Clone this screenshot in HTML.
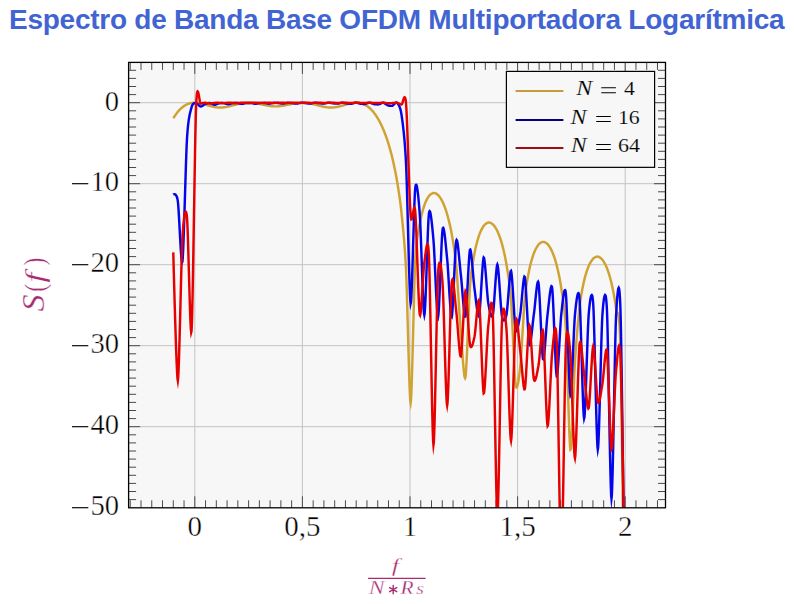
<!DOCTYPE html>
<html><head><meta charset="utf-8"><style>
html,body{margin:0;padding:0;background:#fff;}
body{width:794px;height:604px;position:relative;overflow:hidden;}
.t{position:absolute;left:9px;top:4px;font:bold 28px "Liberation Sans",sans-serif;color:#4264d2;white-space:nowrap;letter-spacing:-0.25px;line-height:normal;}
svg{position:absolute;left:0;top:0;}
</style></head><body>
<div class="t">Espectro de Banda Base OFDM Multiportadora Logarítmica</div>
<svg width="794" height="604" viewBox="0 0 794 604">
<defs><clipPath id="cp"><rect x="128.6" y="62.4" width="536.90" height="445.40"/></clipPath></defs>
<rect x="128.6" y="62.4" width="536.90" height="445.40" fill="#f7f7f7"/>
<line x1="194.80" y1="62.4" x2="194.80" y2="507.8" stroke="#c3c3c3" stroke-width="1"/>
<line x1="302.40" y1="62.4" x2="302.40" y2="507.8" stroke="#c3c3c3" stroke-width="1"/>
<line x1="410.00" y1="62.4" x2="410.00" y2="507.8" stroke="#c3c3c3" stroke-width="1"/>
<line x1="517.60" y1="62.4" x2="517.60" y2="507.8" stroke="#c3c3c3" stroke-width="1"/>
<line x1="625.20" y1="62.4" x2="625.20" y2="507.8" stroke="#c3c3c3" stroke-width="1"/>
<line x1="128.6" y1="102.70" x2="665.5" y2="102.70" stroke="#c3c3c3" stroke-width="1"/>
<line x1="128.6" y1="183.70" x2="665.5" y2="183.70" stroke="#c3c3c3" stroke-width="1"/>
<line x1="128.6" y1="264.70" x2="665.5" y2="264.70" stroke="#c3c3c3" stroke-width="1"/>
<line x1="128.6" y1="345.70" x2="665.5" y2="345.70" stroke="#c3c3c3" stroke-width="1"/>
<line x1="128.6" y1="426.70" x2="665.5" y2="426.70" stroke="#c3c3c3" stroke-width="1"/>
<path d="M130.24,507.8v-7.5M130.24,62.4v7.5M141.00,507.8v-7.5M141.00,62.4v7.5M151.76,507.8v-7.5M151.76,62.4v7.5M162.52,507.8v-7.5M162.52,62.4v7.5M173.28,507.8v-7.5M173.28,62.4v7.5M184.04,507.8v-7.5M184.04,62.4v7.5M194.80,507.8v-11.5M194.80,62.4v11.5M205.56,507.8v-7.5M205.56,62.4v7.5M216.32,507.8v-7.5M216.32,62.4v7.5M227.08,507.8v-7.5M227.08,62.4v7.5M237.84,507.8v-7.5M237.84,62.4v7.5M248.60,507.8v-7.5M248.60,62.4v7.5M259.36,507.8v-7.5M259.36,62.4v7.5M270.12,507.8v-7.5M270.12,62.4v7.5M280.88,507.8v-7.5M280.88,62.4v7.5M291.64,507.8v-7.5M291.64,62.4v7.5M302.40,507.8v-11.5M302.40,62.4v11.5M313.16,507.8v-7.5M313.16,62.4v7.5M323.92,507.8v-7.5M323.92,62.4v7.5M334.68,507.8v-7.5M334.68,62.4v7.5M345.44,507.8v-7.5M345.44,62.4v7.5M356.20,507.8v-7.5M356.20,62.4v7.5M366.96,507.8v-7.5M366.96,62.4v7.5M377.72,507.8v-7.5M377.72,62.4v7.5M388.48,507.8v-7.5M388.48,62.4v7.5M399.24,507.8v-7.5M399.24,62.4v7.5M410.00,507.8v-11.5M410.00,62.4v11.5M420.76,507.8v-7.5M420.76,62.4v7.5M431.52,507.8v-7.5M431.52,62.4v7.5M442.28,507.8v-7.5M442.28,62.4v7.5M453.04,507.8v-7.5M453.04,62.4v7.5M463.80,507.8v-7.5M463.80,62.4v7.5M474.56,507.8v-7.5M474.56,62.4v7.5M485.32,507.8v-7.5M485.32,62.4v7.5M496.08,507.8v-7.5M496.08,62.4v7.5M506.84,507.8v-7.5M506.84,62.4v7.5M517.60,507.8v-11.5M517.60,62.4v11.5M528.36,507.8v-7.5M528.36,62.4v7.5M539.12,507.8v-7.5M539.12,62.4v7.5M549.88,507.8v-7.5M549.88,62.4v7.5M560.64,507.8v-7.5M560.64,62.4v7.5M571.40,507.8v-7.5M571.40,62.4v7.5M582.16,507.8v-7.5M582.16,62.4v7.5M592.92,507.8v-7.5M592.92,62.4v7.5M603.68,507.8v-7.5M603.68,62.4v7.5M614.44,507.8v-7.5M614.44,62.4v7.5M625.20,507.8v-11.5M625.20,62.4v11.5M635.96,507.8v-7.5M635.96,62.4v7.5M646.72,507.8v-7.5M646.72,62.4v7.5M657.48,507.8v-7.5M657.48,62.4v7.5M128.6,499.60h7.5M665.5,499.60h-7.5M128.6,491.50h7.5M665.5,491.50h-7.5M128.6,483.40h7.5M665.5,483.40h-7.5M128.6,475.30h7.5M665.5,475.30h-7.5M128.6,467.20h7.5M665.5,467.20h-7.5M128.6,459.10h7.5M665.5,459.10h-7.5M128.6,451.00h7.5M665.5,451.00h-7.5M128.6,442.90h7.5M665.5,442.90h-7.5M128.6,434.80h7.5M665.5,434.80h-7.5M128.6,426.70h11.5M665.5,426.70h-11.5M128.6,418.60h7.5M665.5,418.60h-7.5M128.6,410.50h7.5M665.5,410.50h-7.5M128.6,402.40h7.5M665.5,402.40h-7.5M128.6,394.30h7.5M665.5,394.30h-7.5M128.6,386.20h7.5M665.5,386.20h-7.5M128.6,378.10h7.5M665.5,378.10h-7.5M128.6,370.00h7.5M665.5,370.00h-7.5M128.6,361.90h7.5M665.5,361.90h-7.5M128.6,353.80h7.5M665.5,353.80h-7.5M128.6,345.70h11.5M665.5,345.70h-11.5M128.6,337.60h7.5M665.5,337.60h-7.5M128.6,329.50h7.5M665.5,329.50h-7.5M128.6,321.40h7.5M665.5,321.40h-7.5M128.6,313.30h7.5M665.5,313.30h-7.5M128.6,305.20h7.5M665.5,305.20h-7.5M128.6,297.10h7.5M665.5,297.10h-7.5M128.6,289.00h7.5M665.5,289.00h-7.5M128.6,280.90h7.5M665.5,280.90h-7.5M128.6,272.80h7.5M665.5,272.80h-7.5M128.6,264.70h11.5M665.5,264.70h-11.5M128.6,256.60h7.5M665.5,256.60h-7.5M128.6,248.50h7.5M665.5,248.50h-7.5M128.6,240.40h7.5M665.5,240.40h-7.5M128.6,232.30h7.5M665.5,232.30h-7.5M128.6,224.20h7.5M665.5,224.20h-7.5M128.6,216.10h7.5M665.5,216.10h-7.5M128.6,208.00h7.5M665.5,208.00h-7.5M128.6,199.90h7.5M665.5,199.90h-7.5M128.6,191.80h7.5M665.5,191.80h-7.5M128.6,183.70h11.5M665.5,183.70h-11.5M128.6,175.60h7.5M665.5,175.60h-7.5M128.6,167.50h7.5M665.5,167.50h-7.5M128.6,159.40h7.5M665.5,159.40h-7.5M128.6,151.30h7.5M665.5,151.30h-7.5M128.6,143.20h7.5M665.5,143.20h-7.5M128.6,135.10h7.5M665.5,135.10h-7.5M128.6,127.00h7.5M665.5,127.00h-7.5M128.6,118.90h7.5M665.5,118.90h-7.5M128.6,110.80h7.5M665.5,110.80h-7.5M128.6,102.70h11.5M665.5,102.70h-11.5M128.6,94.60h7.5M665.5,94.60h-7.5M128.6,86.50h7.5M665.5,86.50h-7.5M128.6,78.40h7.5M665.5,78.40h-7.5M128.6,70.30h7.5M665.5,70.30h-7.5" stroke="#4a4a4a" stroke-width="1" fill="none"/>
<g clip-path="url(#cp)" fill="none" stroke-width="2.45" stroke-linejoin="miter" stroke-miterlimit="10" stroke-linecap="butt">
<path d="M173.28,118.21 173.34,118.12 173.53,117.84 173.81,117.42 174.18,116.88 174.61,116.24 175.08,115.55 175.58,114.82 176.09,114.09 176.59,113.39 177.06,112.74 177.49,112.18 177.84,111.73 178.18,111.33 178.54,110.93 178.92,110.52 179.31,110.10 179.72,109.68 180.13,109.28 180.54,108.88 180.94,108.49 181.34,108.13 181.72,107.79 182.07,107.48 182.41,107.21 182.74,106.95 183.10,106.68 183.48,106.41 183.88,106.15 184.28,105.88 184.69,105.63 185.10,105.38 185.51,105.14 185.90,104.92 186.28,104.72 186.64,104.53 186.97,104.37 187.31,104.22 187.67,104.08 188.05,103.93 188.44,103.79 188.85,103.66 189.26,103.53 189.67,103.41 190.07,103.30 190.47,103.20 190.84,103.11 191.20,103.03 191.54,102.97 191.87,102.91 192.23,102.87 192.61,102.83 193.01,102.79 193.41,102.77 193.82,102.74 194.23,102.73 194.64,102.72 195.03,102.72 195.41,102.72 195.77,102.73 196.10,102.74 196.44,102.76 196.80,102.79 197.18,102.83 197.57,102.88 197.97,102.93 198.38,102.99 198.79,103.06 199.20,103.12 199.59,103.19 199.97,103.26 200.33,103.33 200.67,103.39 201.00,103.47 201.36,103.55 201.74,103.64 202.13,103.74 202.54,103.85 202.95,103.96 203.36,104.07 203.76,104.18 204.16,104.29 204.54,104.40 204.90,104.50 205.23,104.59 205.57,104.68 205.92,104.79 206.30,104.90 206.70,105.02 207.10,105.14 207.51,105.27 207.92,105.39 208.33,105.51 208.72,105.63 209.10,105.74 209.46,105.84 209.80,105.93 210.13,106.02 210.49,106.11 210.87,106.21 211.26,106.31 211.67,106.42 212.08,106.52 212.49,106.62 212.89,106.71 213.29,106.80 213.67,106.88 214.03,106.96 214.36,107.02 214.69,107.08 215.05,107.13 215.43,107.19 215.83,107.25 216.23,107.30 216.64,107.35 217.05,107.40 217.46,107.44 217.85,107.48 218.23,107.51 218.59,107.53 218.93,107.55 219.26,107.56 219.62,107.56 220.00,107.56 220.39,107.55 220.80,107.54 221.21,107.53 221.62,107.51 222.02,107.49 222.42,107.47 222.80,107.44 223.16,107.41 223.49,107.38 223.82,107.34 224.18,107.29 224.56,107.23 224.96,107.17 225.36,107.11 225.77,107.03 226.18,106.96 226.59,106.88 226.98,106.81 227.36,106.73 227.72,106.66 228.05,106.59 228.39,106.52 228.75,106.43 229.13,106.34 229.52,106.24 229.93,106.14 230.34,106.04 230.75,105.93 231.15,105.82 231.55,105.72 231.93,105.62 232.29,105.53 232.62,105.44 232.95,105.35 233.31,105.26 233.69,105.16 234.09,105.05 234.49,104.94 234.90,104.83 235.31,104.72 235.72,104.61 236.11,104.51 236.49,104.41 236.85,104.32 237.18,104.24 237.52,104.17 237.88,104.08 238.26,104.00 238.65,103.91 239.06,103.82 239.47,103.73 239.88,103.64 240.28,103.56 240.68,103.48 241.06,103.41 241.41,103.34 241.75,103.29 242.08,103.23 242.44,103.18 242.82,103.13 243.22,103.08 243.62,103.03 244.03,102.98 244.44,102.93 244.85,102.89 245.24,102.85 245.62,102.82 245.98,102.79 246.31,102.77 246.65,102.75 247.01,102.74 247.39,102.73 247.78,102.72 248.19,102.71 248.60,102.71 249.01,102.71 249.41,102.72 249.81,102.73 250.18,102.74 250.54,102.75 250.88,102.76 251.21,102.78 251.57,102.81 251.95,102.84 252.35,102.88 252.75,102.92 253.16,102.96 253.57,103.01 253.98,103.06 254.37,103.11 254.75,103.15 255.11,103.20 255.44,103.25 255.78,103.30 256.14,103.36 256.52,103.42 256.91,103.49 257.31,103.57 257.72,103.64 258.13,103.72 258.54,103.80 258.93,103.88 259.31,103.95 259.67,104.02 260.01,104.09 260.34,104.15 260.70,104.23 261.08,104.31 261.47,104.39 261.88,104.48 262.29,104.57 262.70,104.66 263.10,104.75 263.50,104.83 263.88,104.91 264.24,104.99 264.57,105.05 264.91,105.12 265.26,105.19 265.64,105.26 266.04,105.34 266.44,105.42 266.85,105.50 267.26,105.57 267.67,105.64 268.06,105.71 268.44,105.78 268.80,105.83 269.14,105.88 269.47,105.93 269.83,105.98 270.21,106.02 270.60,106.07 271.01,106.12 271.42,106.16 271.83,106.20 272.23,106.24 272.63,106.27 273.01,106.30 273.37,106.32 273.70,106.34 274.03,106.35 274.39,106.36 274.77,106.37 275.17,106.37 275.57,106.37 275.98,106.36 276.39,106.36 276.80,106.35 277.19,106.34 277.57,106.32 277.93,106.30 278.27,106.28 278.60,106.26 278.96,106.23 279.34,106.19 279.73,106.15 280.14,106.10 280.55,106.05 280.96,106.00 281.36,105.95 281.76,105.89 282.14,105.84 282.50,105.78 282.83,105.73 283.16,105.68 283.52,105.62 283.90,105.55 284.30,105.47 284.70,105.39 285.11,105.31 285.52,105.23 285.93,105.15 286.32,105.07 286.70,104.99 287.06,104.92 287.39,104.85 287.73,104.78 288.09,104.71 288.47,104.63 288.86,104.54 289.27,104.45 289.68,104.37 290.09,104.28 290.49,104.19 290.89,104.11 291.27,104.03 291.63,103.96 291.96,103.89 292.29,103.83 292.65,103.76 293.03,103.69 293.43,103.62 293.83,103.54 294.24,103.47 294.65,103.40 295.06,103.33 295.45,103.27 295.83,103.21 296.19,103.16 296.52,103.11 296.86,103.07 297.22,103.03 297.60,102.99 297.99,102.95 298.40,102.91 298.81,102.87 299.22,102.84 299.62,102.80 300.02,102.78 300.40,102.75 300.75,102.73 301.09,102.72 301.42,102.71 301.78,102.71 302.16,102.71 302.56,102.71 302.96,102.72 303.37,102.72 303.78,102.74 304.19,102.75 304.58,102.77 304.96,102.79 305.32,102.81 305.65,102.83 305.99,102.86 306.35,102.90 306.73,102.94 307.12,102.99 307.53,103.04 307.94,103.10 308.35,103.16 308.75,103.22 309.15,103.28 309.52,103.34 309.88,103.40 310.22,103.46 310.55,103.52 310.91,103.59 311.29,103.67 311.69,103.76 312.09,103.85 312.50,103.94 312.91,104.04 313.32,104.13 313.71,104.23 314.09,104.32 314.45,104.40 314.78,104.49 315.12,104.57 315.48,104.66 315.86,104.76 316.25,104.87 316.65,104.98 317.06,105.09 317.47,105.20 317.88,105.31 318.27,105.42 318.65,105.52 319.01,105.61 319.35,105.70 319.68,105.78 320.04,105.87 320.42,105.97 320.81,106.07 321.22,106.17 321.63,106.28 322.04,106.38 322.44,106.47 322.84,106.57 323.22,106.65 323.58,106.73 323.91,106.80 324.25,106.86 324.60,106.93 324.98,106.99 325.38,107.06 325.78,107.13 326.19,107.19 326.60,107.25 327.01,107.31 327.40,107.36 327.78,107.40 328.14,107.44 328.48,107.47 328.81,107.49 329.17,107.51 329.55,107.53 329.94,107.54 330.35,107.55 330.76,107.55 331.17,107.55 331.57,107.55 331.97,107.54 332.35,107.53 332.71,107.51 333.04,107.49 333.37,107.47 333.73,107.43 334.11,107.39 334.51,107.34 334.91,107.28 335.32,107.22 335.73,107.16 336.14,107.10 336.53,107.03 336.91,106.96 337.27,106.89 337.61,106.83 337.94,106.76 338.30,106.68 338.68,106.59 339.07,106.49 339.48,106.38 339.89,106.28 340.30,106.17 340.70,106.06 341.10,105.95 341.48,105.85 341.84,105.75 342.17,105.65 342.50,105.56 342.86,105.46 343.24,105.34 343.64,105.23 344.04,105.10 344.45,104.98 344.86,104.86 345.27,104.73 345.66,104.62 346.04,104.51 346.40,104.40 346.73,104.31 347.07,104.22 347.43,104.12 347.81,104.02 348.20,103.92 348.61,103.81 349.02,103.71 349.43,103.61 349.83,103.51 350.23,103.42 350.61,103.33 350.97,103.26 351.30,103.20 351.63,103.14 351.99,103.08 352.37,103.03 352.77,102.97 353.17,102.92 353.58,102.87 353.99,102.82 354.40,102.78 354.79,102.75 355.17,102.73 355.53,102.71 355.86,102.70 356.20,102.70 356.56,102.71 356.94,102.73 357.33,102.75 357.74,102.78 358.15,102.82 358.56,102.86 358.96,102.90 359.36,102.96 359.74,103.02 360.09,103.09 360.43,103.16 360.76,103.24 361.12,103.34 361.50,103.45 361.90,103.58 362.30,103.71 362.71,103.86 363.12,104.01 363.53,104.17 363.92,104.34 364.30,104.50 364.66,104.67 364.99,104.84 365.33,105.03 365.69,105.24 366.07,105.47 366.46,105.72 366.87,105.98 367.28,106.26 367.69,106.55 368.09,106.84 368.49,107.14 368.86,107.43 369.22,107.73 369.56,108.01 369.89,108.32 370.25,108.66 370.63,109.03 371.03,109.42 371.43,109.84 371.84,110.27 372.25,110.72 372.66,111.17 373.05,111.62 373.43,112.06 373.79,112.50 374.12,112.93 374.46,113.37 374.82,113.86 375.20,114.39 375.59,114.96 375.99,115.55 376.40,116.16 376.81,116.79 377.22,117.43 377.61,118.06 377.99,118.68 378.35,119.29 378.69,119.87 379.02,120.48 379.38,121.15 379.76,121.88 380.15,122.65 380.56,123.45 380.97,124.28 381.38,125.13 381.78,125.98 382.18,126.83 382.56,127.66 382.92,128.48 383.25,129.26 383.59,130.07 383.94,130.96 384.32,131.92 384.72,132.94 385.12,134.00 385.53,135.10 385.94,136.22 386.35,137.34 386.74,138.46 387.12,139.57 387.48,140.64 387.82,141.68 388.15,142.75 388.51,143.92 388.89,145.19 389.28,146.53 389.69,147.93 390.10,149.38 390.51,150.85 390.91,152.34 391.31,153.83 391.69,155.30 392.05,156.73 392.38,158.12 392.71,159.55 393.07,161.12 393.45,162.82 393.85,164.61 394.25,166.49 394.66,168.44 395.07,170.43 395.48,172.45 395.87,174.48 396.25,176.51 396.61,178.50 396.95,180.45 397.28,182.47 397.64,184.66 398.02,187.01 398.41,189.50 398.82,192.13 399.23,194.88 399.64,197.72 400.04,200.66 400.44,203.67 400.82,206.74 401.18,209.86 401.51,213.01 401.84,216.28 402.20,219.81 402.58,223.60 402.98,227.66 403.38,231.99 403.79,236.60 404.20,241.50 404.61,246.70 405.00,252.21 405.38,258.03 405.74,264.17 406.07,270.65 406.41,278.86 406.77,289.76 407.15,302.70 407.54,317.03 407.95,332.08 408.36,347.21 408.77,361.75 409.17,375.06 409.57,386.48 409.95,395.35 410.31,401.02 410.64,402.83 410.97,400.23 411.33,393.60 411.71,383.63 412.11,371.04 412.51,356.54 412.92,340.84 413.33,324.63 413.74,308.65 414.13,293.59 414.51,280.16 414.87,269.08 415.20,261.05 415.54,255.20 415.90,250.13 416.28,245.76 416.67,241.99 417.08,238.75 417.49,235.95 417.90,233.52 418.30,231.36 418.70,229.39 419.08,227.53 419.43,225.70 419.77,223.81 420.10,221.88 420.46,220.00 420.84,218.18 421.24,216.42 421.64,214.73 422.05,213.11 422.46,211.58 422.87,210.13 423.26,208.78 423.64,207.53 424.00,206.39 424.33,205.36 424.67,204.40 425.03,203.45 425.41,202.52 425.80,201.62 426.21,200.75 426.62,199.92 427.03,199.14 427.43,198.41 427.83,197.73 428.20,197.12 428.56,196.57 428.90,196.10 429.23,195.68 429.59,195.28 429.97,194.91 430.37,194.56 430.77,194.25 431.18,193.96 431.59,193.71 432.00,193.49 432.39,193.31 432.77,193.17 433.13,193.07 433.46,193.01 433.80,192.99 434.16,193.01 434.54,193.08 434.93,193.18 435.33,193.31 435.74,193.47 436.15,193.67 436.56,193.89 436.95,194.13 437.33,194.40 437.69,194.68 438.03,194.98 438.36,195.33 438.72,195.74 439.10,196.20 439.49,196.72 439.90,197.28 440.31,197.88 440.72,198.50 441.12,199.15 441.52,199.82 441.90,200.50 442.26,201.18 442.59,201.86 442.93,202.59 443.28,203.40 443.66,204.30 444.06,205.27 444.46,206.30 444.87,207.38 445.28,208.50 445.69,209.64 446.08,210.80 446.46,211.96 446.82,213.12 447.16,214.26 447.49,215.46 447.85,216.79 448.23,218.23 448.62,219.78 449.03,221.41 449.44,223.11 449.85,224.88 450.25,226.68 450.65,228.52 451.03,230.37 451.39,232.22 451.72,234.06 452.05,235.97 452.41,238.04 452.79,240.26 453.19,242.63 453.59,245.14 454.00,247.80 454.41,250.59 454.82,253.51 455.21,256.56 455.59,259.74 455.95,263.03 456.29,266.43 456.62,270.34 456.98,275.06 457.36,280.45 457.75,286.33 458.16,292.56 458.57,298.98 458.98,305.43 459.38,311.76 459.78,317.82 460.16,323.45 460.52,328.50 460.85,332.80 461.18,337.07 461.54,341.94 461.92,347.22 462.32,352.69 462.72,358.13 463.13,363.33 463.54,368.06 463.95,372.13 464.34,375.30 464.72,377.38 465.08,378.13 465.41,377.36 465.75,374.55 466.11,369.60 466.49,362.91 466.88,354.84 467.29,345.78 467.70,336.12 468.11,326.22 468.51,316.48 468.91,307.27 469.29,298.98 469.65,291.99 469.98,286.68 470.31,282.50 470.67,278.65 471.05,275.11 471.45,271.84 471.85,268.84 472.26,266.07 472.67,263.52 473.08,261.15 473.47,258.95 473.85,256.90 474.21,254.96 474.54,253.12 474.88,251.33 475.24,249.57 475.62,247.84 476.01,246.15 476.42,244.52 476.83,242.94 477.24,241.44 477.64,240.02 478.04,238.68 478.42,237.45 478.77,236.32 479.11,235.30 479.44,234.35 479.80,233.41 480.18,232.49 480.58,231.58 480.98,230.70 481.39,229.86 481.80,229.06 482.21,228.31 482.60,227.62 482.98,226.99 483.34,226.42 483.67,225.94 484.01,225.50 484.37,225.08 484.75,224.69 485.14,224.32 485.55,223.98 485.96,223.67 486.37,223.39 486.77,223.14 487.17,222.93 487.54,222.77 487.90,222.64 488.24,222.56 488.57,222.52 488.93,222.52 489.31,222.56 489.71,222.64 490.11,222.75 490.52,222.89 490.93,223.06 491.34,223.26 491.73,223.48 492.11,223.73 492.47,224.00 492.80,224.29 493.14,224.62 493.50,225.02 493.88,225.47 494.27,225.97 494.67,226.52 495.08,227.11 495.49,227.73 495.90,228.38 496.29,229.04 496.67,229.72 497.03,230.41 497.37,231.09 497.70,231.82 498.06,232.65 498.44,233.56 498.83,234.55 499.24,235.60 499.65,236.70 500.06,237.84 500.46,239.01 500.86,240.20 501.24,241.40 501.60,242.60 501.93,243.78 502.27,245.03 502.62,246.41 503.00,247.92 503.40,249.53 503.80,251.23 504.21,253.02 504.62,254.87 505.03,256.77 505.42,258.72 505.80,260.69 506.16,262.68 506.50,264.66 506.83,266.70 507.19,268.88 507.57,271.21 507.96,273.69 508.37,276.34 508.78,279.16 509.19,282.17 509.59,285.38 509.99,288.78 510.37,292.41 510.73,296.25 511.06,300.33 511.39,305.34 511.75,311.76 512.13,319.28 512.53,327.58 512.93,336.36 513.34,345.29 513.75,354.07 514.16,362.38 514.55,369.91 514.93,376.34 515.29,381.37 515.63,384.68 515.96,386.54 516.32,387.48 516.70,387.60 517.09,387.00 517.50,385.77 517.91,384.00 518.32,381.78 518.72,379.21 519.12,376.39 519.50,373.40 519.86,370.34 520.19,367.30 520.52,363.71 520.88,359.05 521.26,353.54 521.66,347.37 522.06,340.75 522.47,333.89 522.88,326.99 523.29,320.27 523.68,313.92 524.06,308.15 524.42,303.17 524.75,299.18 525.09,295.84 525.45,292.68 525.83,289.67 526.22,286.83 526.63,284.15 527.04,281.63 527.45,279.25 527.85,277.02 528.25,274.94 528.63,272.99 528.99,271.19 529.32,269.51 529.65,267.91 530.01,266.31 530.39,264.74 530.79,263.20 531.19,261.71 531.60,260.26 532.01,258.88 532.42,257.56 532.81,256.33 533.19,255.19 533.55,254.15 533.88,253.23 534.22,252.36 534.58,251.50 534.96,250.65 535.35,249.82 535.76,249.02 536.17,248.25 536.58,247.52 536.98,246.83 537.38,246.20 537.76,245.63 538.11,245.12 538.45,244.69 538.78,244.30 539.14,243.93 539.52,243.59 539.92,243.27 540.32,242.98 540.73,242.72 541.14,242.49 541.55,242.29 541.94,242.13 542.32,242.01 542.68,241.93 543.01,241.89 543.35,241.89 543.71,241.94 544.09,242.02 544.48,242.14 544.89,242.30 545.30,242.48 545.71,242.70 546.11,242.95 546.51,243.22 546.88,243.51 547.24,243.82 547.58,244.16 547.91,244.53 548.27,244.98 548.65,245.48 549.05,246.04 549.45,246.65 549.86,247.29 550.27,247.97 550.68,248.68 551.07,249.40 551.45,250.14 551.81,250.88 552.14,251.63 552.48,252.42 552.84,253.32 553.22,254.30 553.61,255.37 554.01,256.50 554.42,257.68 554.83,258.91 555.24,260.17 555.63,261.46 556.01,262.76 556.37,264.05 556.71,265.34 557.04,266.69 557.40,268.19 557.78,269.81 558.17,271.55 558.58,273.39 558.99,275.32 559.40,277.33 559.80,279.41 560.20,281.54 560.58,283.71 560.94,285.90 561.27,288.12 561.61,290.34 561.96,292.62 562.34,295.01 562.74,297.54 563.14,300.26 563.55,303.22 563.96,306.47 564.37,310.06 564.76,314.02 565.14,318.40 565.50,323.26 565.84,328.63 566.17,335.67 566.53,345.11 566.91,356.40 567.30,368.98 567.71,382.30 568.12,395.80 568.53,408.93 568.93,421.13 569.33,431.84 569.71,440.51 570.07,446.58 570.40,449.50 570.73,449.13 571.09,445.99 571.47,440.54 571.87,433.22 572.27,424.49 572.68,414.81 573.09,404.61 573.50,394.34 573.89,384.47 574.27,375.43 574.63,367.69 574.97,361.68 575.30,356.64 575.66,351.50 576.04,346.33 576.43,341.17 576.84,336.09 577.25,331.14 577.66,326.36 578.06,321.82 578.46,317.56 578.84,313.65 579.20,310.12 579.53,307.05 579.86,304.26 580.22,301.57 580.60,298.98 581.00,296.48 581.40,294.10 581.81,291.82 582.22,289.66 582.63,287.63 583.02,285.71 583.40,283.93 583.76,282.29 584.09,280.79 584.43,279.35 584.79,277.92 585.17,276.51 585.56,275.12 585.97,273.77 586.38,272.46 586.79,271.21 587.19,270.02 587.59,268.91 587.97,267.88 588.33,266.94 588.66,266.11 588.99,265.34 589.35,264.57 589.73,263.81 590.13,263.08 590.53,262.37 590.94,261.69 591.35,261.04 591.76,260.45 592.15,259.89 592.53,259.40 592.89,258.96 593.22,258.60 593.56,258.27 593.92,257.98 594.30,257.70 594.69,257.46 595.10,257.24 595.51,257.05 595.92,256.89 596.32,256.76 596.72,256.67 597.10,256.61 597.45,256.59 597.79,256.61 598.12,256.67 598.48,256.78 598.86,256.93 599.26,257.11 599.66,257.34 600.07,257.59 600.48,257.88 600.89,258.20 601.28,258.54 601.66,258.90 602.02,259.27 602.35,259.67 602.69,260.11 603.05,260.62 603.43,261.20 603.82,261.83 604.23,262.52 604.64,263.24 605.05,264.00 605.45,264.79 605.85,265.60 606.22,266.42 606.58,267.25 606.92,268.07 607.25,268.95 607.61,269.94 607.99,271.02 608.39,272.18 608.79,273.42 609.20,274.72 609.61,276.07 610.02,277.45 610.41,278.86 610.79,280.28 611.15,281.71 611.48,283.13 611.82,284.61 612.18,286.25 612.56,288.02 612.95,289.92 613.35,291.93 613.76,294.05 614.17,296.26 614.58,298.55 614.97,300.92 615.35,303.34 615.71,305.82 616.05,308.33 616.38,310.32 616.74,311.48 617.12,312.16 617.51,312.71 617.92,313.50 618.33,314.88 618.74,317.19 619.14,320.81 619.54,326.09 619.92,333.37 620.28,343.03 620.61,355.41 620.97,373.92 621.39,400.50 621.86,433.31 622.36,470.51 622.87,510.23 623.37,550.65 623.84,589.92 624.27,626.18 624.64,657.60 624.92,682.32 625.10,698.51 625.17,704.32" stroke="#cfa232"/>
<path d="M173.28,194.62 173.34,194.58 173.53,194.46 173.81,194.34 174.18,194.25 174.61,194.26 175.08,194.41 175.58,194.76 176.09,195.35 176.59,196.25 177.06,197.49 177.49,199.14 177.84,201.24 178.18,204.57 178.54,209.58 178.92,215.87 179.31,223.02 179.72,230.61 180.13,238.24 180.54,245.50 180.94,251.96 181.34,257.23 181.72,260.87 182.07,262.49 182.41,261.67 182.74,257.84 183.10,251.06 183.48,241.86 183.88,230.79 184.28,218.38 184.69,205.16 185.10,191.67 185.51,178.46 185.90,166.04 186.28,154.97 186.64,145.77 186.97,138.98 187.31,133.92 187.67,129.49 188.05,125.63 188.44,122.29 188.85,119.42 189.26,116.95 189.67,114.82 190.07,112.98 190.47,111.37 190.84,109.94 191.20,108.62 191.54,107.35 191.87,106.22 192.23,105.31 192.61,104.60 193.01,104.07 193.41,103.69 193.82,103.43 194.23,103.28 194.64,103.20 195.03,103.18 195.41,103.19 195.77,103.20 196.10,103.18 196.44,103.22 196.80,103.38 197.18,103.64 197.57,103.97 197.97,104.36 198.38,104.77 198.79,105.18 199.20,105.58 199.59,105.94 199.97,106.23 200.33,106.43 200.67,106.52 201.00,106.50 201.36,106.40 201.74,106.23 202.13,106.01 202.54,105.75 202.95,105.46 203.36,105.16 203.76,104.86 204.16,104.57 204.54,104.31 204.90,104.10 205.23,103.95 205.57,103.82 205.92,103.70 206.30,103.57 206.70,103.46 207.10,103.35 207.51,103.25 207.92,103.16 208.33,103.09 208.72,103.03 209.10,103.00 209.46,102.99 209.80,103.00 210.13,103.06 210.49,103.17 210.87,103.32 211.26,103.50 211.67,103.69 212.08,103.90 212.49,104.11 212.89,104.31 213.29,104.48 213.67,104.62 214.03,104.72 214.36,104.76 214.69,104.75 215.05,104.69 215.43,104.60 215.83,104.47 216.23,104.33 216.64,104.17 217.05,104.01 217.46,103.84 217.85,103.69 218.23,103.55 218.59,103.44 218.93,103.36 219.26,103.30 219.62,103.23 220.00,103.18 220.39,103.12 220.80,103.07 221.21,103.02 221.62,102.99 222.02,102.96 222.42,102.94 222.80,102.94 223.16,102.94 223.49,102.97 223.82,103.01 224.18,103.09 224.56,103.20 224.96,103.33 225.36,103.47 225.77,103.61 226.18,103.75 226.59,103.88 226.98,104.00 227.36,104.09 227.72,104.16 228.05,104.18 228.39,104.17 228.75,104.12 229.13,104.05 229.52,103.95 229.93,103.84 230.34,103.72 230.75,103.60 231.15,103.48 231.55,103.36 231.93,103.26 232.29,103.18 232.62,103.12 232.95,103.08 233.31,103.04 233.69,103.01 234.09,102.98 234.49,102.96 234.90,102.94 235.31,102.93 235.72,102.92 236.11,102.92 236.49,102.93 236.85,102.94 237.18,102.96 237.52,103.01 237.88,103.07 238.26,103.16 238.65,103.26 239.06,103.36 239.47,103.47 239.88,103.58 240.28,103.68 240.68,103.77 241.06,103.84 241.41,103.89 241.75,103.90 242.08,103.89 242.44,103.85 242.82,103.78 243.22,103.70 243.62,103.60 244.03,103.50 244.44,103.39 244.85,103.29 245.24,103.19 245.62,103.11 245.98,103.04 246.31,102.99 246.65,102.96 247.01,102.94 247.39,102.92 247.78,102.91 248.19,102.90 248.60,102.90 249.01,102.90 249.41,102.91 249.81,102.92 250.18,102.93 250.54,102.95 250.88,102.98 251.21,103.02 251.57,103.07 251.95,103.14 252.35,103.23 252.75,103.32 253.16,103.41 253.57,103.49 253.98,103.58 254.37,103.65 254.75,103.70 255.11,103.74 255.44,103.75 255.78,103.73 256.14,103.69 256.52,103.63 256.91,103.55 257.31,103.46 257.72,103.37 258.13,103.27 258.54,103.17 258.93,103.08 259.31,103.01 259.67,102.95 260.01,102.91 260.34,102.89 260.70,102.87 261.08,102.87 261.47,102.86 261.88,102.87 262.29,102.88 262.70,102.89 263.10,102.91 263.50,102.93 263.88,102.95 264.24,102.98 264.57,103.00 264.91,103.04 265.26,103.09 265.64,103.15 266.04,103.22 266.44,103.30 266.85,103.37 267.26,103.45 267.67,103.52 268.06,103.57 268.44,103.62 268.80,103.65 269.14,103.65 269.47,103.63 269.83,103.59 270.21,103.53 270.60,103.46 271.01,103.37 271.42,103.28 271.83,103.19 272.23,103.10 272.63,103.01 273.01,102.94 273.37,102.89 273.70,102.85 274.03,102.84 274.39,102.83 274.77,102.83 275.17,102.84 275.57,102.85 275.98,102.87 276.39,102.90 276.80,102.92 277.19,102.95 277.57,102.98 277.93,103.01 278.27,103.03 278.60,103.07 278.96,103.11 279.34,103.17 279.73,103.23 280.14,103.30 280.55,103.36 280.96,103.43 281.36,103.49 281.76,103.54 282.14,103.57 282.50,103.59 282.83,103.60 283.16,103.58 283.52,103.53 283.90,103.47 284.30,103.40 284.70,103.31 285.11,103.22 285.52,103.13 285.93,103.04 286.32,102.96 286.70,102.89 287.06,102.84 287.39,102.81 287.73,102.80 288.09,102.80 288.47,102.81 288.86,102.83 289.27,102.85 289.68,102.88 290.09,102.91 290.49,102.94 290.89,102.98 291.27,103.01 291.63,103.05 291.96,103.07 292.29,103.11 292.65,103.15 293.03,103.20 293.43,103.26 293.83,103.32 294.24,103.38 294.65,103.43 295.06,103.48 295.45,103.52 295.83,103.55 296.19,103.57 296.52,103.57 296.86,103.54 297.22,103.50 297.60,103.43 297.99,103.36 298.40,103.27 298.81,103.18 299.22,103.09 299.62,103.00 300.02,102.92 300.40,102.86 300.75,102.81 301.09,102.78 301.42,102.77 301.78,102.78 302.16,102.79 302.56,102.82 302.96,102.85 303.37,102.89 303.78,102.93 304.19,102.98 304.58,103.02 304.96,103.06 305.32,103.10 305.65,103.13 305.99,103.16 306.35,103.20 306.73,103.25 307.12,103.30 307.53,103.35 307.94,103.40 308.35,103.45 308.75,103.49 309.15,103.53 309.52,103.55 309.88,103.56 310.22,103.56 310.55,103.53 310.91,103.48 311.29,103.42 311.69,103.34 312.09,103.25 312.50,103.16 312.91,103.06 313.32,102.97 313.71,102.90 314.09,102.83 314.45,102.78 314.78,102.76 315.12,102.75 315.48,102.76 315.86,102.79 316.25,102.82 316.65,102.87 317.06,102.92 317.47,102.97 317.88,103.02 318.27,103.08 318.65,103.12 319.01,103.17 319.35,103.20 319.68,103.23 320.04,103.27 320.42,103.32 320.81,103.36 321.22,103.41 321.63,103.46 322.04,103.50 322.44,103.53 322.84,103.56 323.22,103.58 323.58,103.58 323.91,103.58 324.25,103.55 324.60,103.49 324.98,103.42 325.38,103.34 325.78,103.24 326.19,103.15 326.60,103.05 327.01,102.96 327.40,102.87 327.78,102.81 328.14,102.76 328.48,102.74 328.81,102.74 329.17,102.76 329.55,102.79 329.94,102.84 330.35,102.89 330.76,102.96 331.17,103.02 331.57,103.09 331.97,103.15 332.35,103.21 332.71,103.26 333.04,103.30 333.37,103.33 333.73,103.37 334.11,103.41 334.51,103.46 334.91,103.50 335.32,103.54 335.73,103.57 336.14,103.60 336.53,103.62 336.91,103.64 337.27,103.64 337.61,103.62 337.94,103.59 338.30,103.53 338.68,103.45 339.07,103.36 339.48,103.26 339.89,103.15 340.30,103.05 340.70,102.95 341.10,102.86 341.48,102.79 341.84,102.74 342.17,102.72 342.50,102.73 342.86,102.76 343.24,102.80 343.64,102.87 344.04,102.94 344.45,103.02 344.86,103.11 345.27,103.19 345.66,103.27 346.04,103.34 346.40,103.40 346.73,103.45 347.07,103.48 347.43,103.52 347.81,103.56 348.20,103.60 348.61,103.64 349.02,103.67 349.43,103.70 349.83,103.72 350.23,103.74 350.61,103.74 350.97,103.74 351.30,103.72 351.63,103.68 351.99,103.61 352.37,103.52 352.77,103.41 353.17,103.30 353.58,103.18 353.99,103.06 354.40,102.95 354.79,102.85 355.17,102.78 355.53,102.73 355.86,102.71 356.20,102.72 356.56,102.77 356.94,102.83 357.33,102.92 357.74,103.02 358.15,103.13 358.56,103.24 358.96,103.35 359.36,103.46 359.74,103.55 360.09,103.63 360.43,103.68 360.76,103.72 361.12,103.77 361.50,103.81 361.90,103.84 362.30,103.88 362.71,103.91 363.12,103.93 363.53,103.95 363.92,103.95 364.30,103.95 364.66,103.93 364.99,103.91 365.33,103.85 365.69,103.77 366.07,103.65 366.46,103.52 366.87,103.38 367.28,103.24 367.69,103.10 368.09,102.97 368.49,102.86 368.86,102.77 369.22,102.72 369.56,102.70 369.89,102.73 370.25,102.80 370.63,102.91 371.03,103.04 371.43,103.18 371.84,103.34 372.25,103.51 372.66,103.67 373.05,103.82 373.43,103.95 373.79,104.06 374.12,104.13 374.46,104.19 374.82,104.24 375.20,104.28 375.59,104.33 375.99,104.36 376.40,104.39 376.81,104.40 377.22,104.41 377.61,104.41 377.99,104.39 378.35,104.37 378.69,104.32 379.02,104.25 379.38,104.12 379.76,103.97 380.15,103.78 380.56,103.59 380.97,103.39 381.38,103.19 381.78,103.02 382.18,102.87 382.56,102.76 382.92,102.70 383.25,102.70 383.59,102.78 383.94,102.92 384.32,103.11 384.72,103.35 385.12,103.62 385.53,103.91 385.94,104.20 386.35,104.49 386.74,104.76 387.12,104.99 387.48,105.19 387.82,105.33 388.15,105.43 388.51,105.53 388.89,105.62 389.28,105.70 389.69,105.76 390.10,105.82 390.51,105.86 390.91,105.87 391.31,105.87 391.69,105.85 392.05,105.80 392.38,105.72 392.71,105.56 393.07,105.29 393.45,104.93 393.85,104.51 394.25,104.07 394.66,103.63 395.07,103.22 395.48,102.88 395.87,102.63 396.25,102.51 396.61,102.54 396.95,102.75 397.28,103.09 397.64,103.48 398.02,103.95 398.41,104.51 398.82,105.19 399.23,106.00 399.64,106.96 400.04,108.09 400.44,109.42 400.82,110.96 401.18,112.73 401.51,114.75 401.84,117.03 402.20,119.57 402.58,122.41 402.98,125.55 403.38,129.02 403.79,132.84 404.20,137.03 404.61,141.61 405.00,146.61 405.38,152.04 405.74,157.92 406.07,164.29 406.41,172.52 406.77,183.55 407.15,196.72 407.54,211.39 407.95,226.89 408.36,242.56 408.77,257.76 409.17,271.81 409.57,284.08 409.95,293.90 410.31,300.61 410.64,303.55 410.97,302.24 411.33,297.08 411.71,288.77 412.11,278.01 412.51,265.52 412.92,251.99 413.33,238.13 413.74,224.64 414.13,212.23 414.51,201.61 414.87,193.46 415.20,188.51 415.54,186.06 415.90,184.86 416.28,184.79 416.67,185.72 417.08,187.53 417.49,190.09 417.90,193.29 418.30,196.99 418.70,201.07 419.08,205.40 419.43,209.86 419.77,214.33 420.10,220.03 420.46,227.94 420.84,237.54 421.24,248.32 421.64,259.76 422.05,271.34 422.46,282.56 422.87,292.88 423.26,301.81 423.64,308.82 424.00,313.40 424.33,315.03 424.67,313.22 425.03,308.24 425.41,300.67 425.80,291.11 426.21,280.14 426.62,268.37 427.03,256.37 427.43,244.76 427.83,234.11 428.20,225.02 428.56,218.08 428.90,213.89 429.23,211.92 429.59,211.18 429.97,211.52 430.37,212.81 430.77,214.89 431.18,217.64 431.59,220.90 432.00,224.55 432.39,228.43 432.77,232.41 433.13,236.34 433.46,240.10 433.80,244.67 434.16,250.92 434.54,258.43 434.93,266.82 435.33,275.66 435.74,284.58 436.15,293.16 436.56,301.01 436.95,307.73 437.33,312.92 437.69,316.17 438.03,317.10 438.36,315.21 438.72,310.64 439.10,303.89 439.49,295.48 439.90,285.92 440.31,275.70 440.72,265.35 441.12,255.37 441.52,246.27 441.90,238.56 442.26,232.74 442.59,229.34 442.93,227.97 443.28,227.85 443.66,228.80 444.06,230.67 444.46,233.28 444.87,236.49 445.28,240.12 445.69,244.01 446.08,248.00 446.46,251.93 446.82,255.64 447.16,258.96 447.49,262.73 447.85,267.70 448.23,273.57 448.62,280.05 449.03,286.81 449.44,293.57 449.85,300.02 450.25,305.86 450.65,310.78 451.03,314.49 451.39,316.68 451.72,317.05 452.05,315.12 452.41,310.92 452.79,304.87 453.19,297.42 453.59,289.03 454.00,280.12 454.41,271.14 454.82,262.53 455.21,254.73 455.59,248.20 455.95,243.36 456.29,240.66 456.62,239.89 456.98,240.40 457.36,242.01 457.75,244.53 458.16,247.76 458.57,251.53 458.98,255.65 459.38,259.92 459.78,264.15 460.16,268.17 460.52,271.78 460.85,274.79 461.18,277.91 461.54,281.81 461.92,286.27 462.32,291.09 462.72,296.04 463.13,300.91 463.54,305.49 463.95,309.56 464.34,312.91 464.72,315.31 465.08,316.56 465.41,316.45 465.75,314.47 466.11,310.56 466.49,305.09 466.88,298.46 467.29,291.05 467.70,283.24 468.11,275.43 468.51,267.99 468.91,261.33 469.29,255.81 469.65,251.84 469.98,249.79 470.31,249.59 470.67,250.74 471.05,253.02 471.45,256.24 471.85,260.15 472.26,264.56 472.67,269.24 473.08,273.97 473.47,278.54 473.85,282.74 474.21,286.34 474.54,289.12 474.88,291.67 475.24,294.61 475.62,297.80 476.01,301.11 476.42,304.41 476.83,307.55 477.24,310.42 477.64,312.86 478.04,314.75 478.42,315.95 478.77,316.33 479.11,315.75 479.44,313.71 479.80,310.04 480.18,305.06 480.58,299.11 480.98,292.55 481.39,285.70 481.80,278.90 482.21,272.50 482.60,266.82 482.98,262.22 483.34,259.03 483.67,257.59 484.01,257.94 484.37,259.74 484.75,262.74 485.14,266.69 485.55,271.35 485.96,276.45 486.37,281.77 486.77,287.04 487.17,292.02 487.54,296.46 487.90,300.11 488.24,302.73 488.57,304.77 488.93,306.82 489.31,308.82 489.71,310.71 490.11,312.45 490.52,313.96 490.93,315.19 491.34,316.08 491.73,316.58 492.11,316.63 492.47,316.16 492.80,315.13 493.14,313.01 493.50,309.51 493.88,304.95 494.27,299.60 494.67,293.77 495.08,287.77 495.49,281.87 495.90,276.39 496.29,271.62 496.67,267.85 497.03,265.38 497.37,264.52 497.70,265.43 498.06,267.90 498.44,271.65 498.83,276.40 499.24,281.86 499.65,287.74 500.06,293.77 500.46,299.66 500.86,305.12 501.24,309.87 501.60,313.64 501.93,316.12 502.27,317.69 502.62,318.89 503.00,319.75 503.40,320.27 503.80,320.48 504.21,320.40 504.62,320.03 505.03,319.41 505.42,318.54 505.80,317.45 506.16,316.14 506.50,314.65 506.83,312.42 507.19,309.06 507.57,304.84 507.96,300.01 508.37,294.84 508.78,289.59 509.19,284.51 509.59,279.87 509.99,275.93 510.37,272.94 510.73,271.16 511.06,270.87 511.39,272.35 511.75,275.53 512.13,280.09 512.53,285.71 512.93,292.05 513.34,298.80 513.75,305.63 514.16,312.22 514.55,318.25 514.93,323.39 515.29,327.32 515.63,329.71 515.96,330.83 516.32,331.20 516.70,330.92 517.09,330.07 517.50,328.77 517.91,327.08 518.32,325.12 518.72,322.96 519.12,320.71 519.50,318.46 519.86,316.31 520.19,314.33 520.52,311.96 520.88,308.69 521.26,304.76 521.66,300.39 522.06,295.81 522.47,291.24 522.88,286.91 523.29,283.05 523.68,279.89 524.06,277.64 524.42,276.54 524.75,276.81 525.09,278.90 525.45,282.85 525.83,288.30 526.22,294.87 526.63,302.21 527.04,309.93 527.45,317.68 527.85,325.08 528.25,331.77 528.63,337.38 528.99,341.54 529.32,343.88 529.65,344.56 530.01,344.09 530.39,342.65 530.79,340.41 531.19,337.54 531.60,334.21 532.01,330.60 532.42,326.86 532.81,323.18 533.19,319.73 533.55,316.67 533.88,314.18 534.22,311.63 534.58,308.41 534.96,304.72 535.35,300.74 535.76,296.69 536.17,292.75 536.58,289.12 536.98,286.00 537.38,283.57 537.76,282.05 538.11,281.62 538.45,282.48 538.78,285.22 539.14,290.03 539.52,296.47 539.92,304.14 540.32,312.61 540.73,321.46 541.14,330.27 541.55,338.63 541.94,346.10 542.32,352.28 542.68,356.74 543.01,359.06 543.35,359.30 543.71,357.97 544.09,355.32 544.48,351.61 544.89,347.09 545.30,342.02 545.71,336.65 546.11,331.23 546.51,326.02 546.88,321.28 547.24,317.25 547.58,314.19 547.91,311.42 548.27,308.19 548.65,304.68 549.05,301.05 549.45,297.47 549.86,294.11 550.27,291.14 550.68,288.72 551.07,287.03 551.45,286.22 551.81,286.48 552.14,287.97 552.48,291.44 552.84,297.22 553.22,304.82 553.61,313.77 554.01,323.58 554.42,333.76 554.83,343.84 555.24,353.34 555.63,361.77 556.01,368.66 556.37,373.51 556.71,375.85 557.04,375.64 557.40,373.38 557.78,369.42 558.17,364.12 558.58,357.80 558.99,350.82 559.40,343.53 559.80,336.26 560.20,329.36 560.58,323.18 560.94,318.07 561.27,314.36 561.61,311.31 561.96,308.01 562.34,304.62 562.74,301.27 563.14,298.11 563.55,295.28 563.96,292.94 564.37,291.21 564.76,290.24 565.14,290.18 565.50,291.17 565.84,293.35 566.17,297.67 566.53,304.61 566.91,313.61 567.30,324.11 567.71,335.55 568.12,347.37 568.53,359.02 568.93,369.94 569.33,379.57 569.71,387.36 570.07,392.73 570.40,395.15 570.73,394.45 571.09,391.16 571.47,385.74 571.87,378.62 572.27,370.26 572.68,361.10 573.09,351.61 573.50,342.22 573.89,333.38 574.27,325.55 574.63,319.17 574.97,314.69 575.30,311.26 575.66,307.80 576.04,304.45 576.43,301.31 576.84,298.51 577.25,296.17 577.66,294.42 578.06,293.37 578.46,293.15 578.84,293.88 579.20,295.69 579.53,298.68 579.86,304.05 580.22,312.45 580.60,323.23 581.00,335.72 581.40,349.26 581.81,363.21 582.22,376.91 582.63,389.69 583.02,400.91 583.40,409.89 583.76,416.00 584.09,418.57 584.43,417.32 584.79,412.82 585.17,405.64 585.56,396.35 585.97,385.53 586.38,373.75 586.79,361.58 587.19,349.61 587.59,338.41 587.97,328.55 588.33,320.61 588.66,315.17 588.99,311.22 589.35,307.47 589.73,304.01 590.13,300.97 590.53,298.43 590.94,296.52 591.35,295.34 591.76,294.98 592.15,295.57 592.53,297.20 592.89,299.98 593.22,304.02 593.56,310.80 593.92,321.22 594.30,334.46 594.69,349.75 595.10,366.27 595.51,383.23 595.92,399.83 596.32,415.28 596.72,428.77 597.10,439.52 597.45,446.71 597.79,449.56 598.12,447.65 598.48,441.59 598.86,432.12 599.26,419.97 599.66,405.91 600.07,390.65 600.48,374.96 600.89,359.56 601.28,345.20 601.66,332.63 602.02,322.58 602.35,315.79 602.69,311.05 603.05,306.72 603.43,302.91 603.82,299.72 604.23,297.26 604.64,295.64 605.05,294.95 605.45,295.32 605.85,296.84 606.22,299.62 606.58,303.77 606.92,309.39 607.25,318.47 607.61,332.22 607.99,349.61 608.39,369.59 608.79,391.13 609.20,413.20 609.61,434.76 610.02,454.77 610.41,472.19 610.79,485.99 611.15,495.13 611.48,498.58 611.82,495.70 612.18,487.23 612.56,474.17 612.95,457.55 613.35,438.35 613.76,417.59 614.17,396.27 614.58,375.40 614.97,355.99 615.35,339.04 615.71,325.56 616.05,316.55 616.38,310.22 616.74,304.25 617.12,298.86 617.51,294.29 617.92,290.76 618.33,288.52 618.74,287.78 619.14,288.79 619.54,291.77 619.92,296.95 620.28,304.57 620.61,314.85 620.97,331.28 621.39,355.97 621.86,387.05 622.36,422.70 622.87,461.06 623.37,500.30 623.84,538.56 624.27,573.99 624.64,604.77 624.92,629.04 625.10,644.95 625.17,650.66" stroke="#0505ec"/>
<path d="M173.28,252.39 173.34,254.95 173.53,262.02 173.81,272.70 174.18,286.07 174.61,301.22 175.08,317.24 175.58,333.21 176.09,348.24 176.59,361.41 177.06,371.81 177.49,378.52 177.84,380.64 178.18,377.88 178.54,371.04 178.92,360.86 179.31,348.05 179.72,333.36 180.13,317.50 180.54,301.20 180.94,285.20 181.34,270.21 181.72,256.97 182.07,246.20 182.41,238.64 182.74,233.16 183.10,228.20 183.48,223.80 183.88,220.01 184.28,216.88 184.69,214.45 185.10,212.76 185.51,211.87 185.90,211.82 186.28,212.64 186.64,214.40 186.97,217.14 187.31,222.39 187.67,231.15 188.05,242.59 188.44,255.89 188.85,270.23 189.26,284.80 189.67,298.78 190.07,311.34 190.47,321.67 190.84,328.96 191.20,332.38 191.54,331.11 191.87,324.03 192.23,311.26 192.61,293.89 193.01,272.97 193.41,249.57 193.82,224.76 194.23,199.61 194.64,175.20 195.03,152.57 195.41,132.82 195.77,116.99 196.10,106.17 196.44,99.44 196.80,94.95 197.18,92.39 197.57,91.44 197.97,91.78 198.38,93.09 198.79,95.05 199.20,97.36 199.59,99.68 199.97,101.69 200.33,103.09 200.67,103.55 201.00,103.43 201.36,103.33 201.74,103.23 202.13,103.15 202.54,103.07 202.95,103.00 203.36,102.94 203.76,102.90 204.16,102.86 204.54,102.83 204.90,102.81 205.23,102.80 205.57,102.82 205.92,102.85 206.30,102.90 206.70,102.97 207.10,103.05 207.51,103.13 207.92,103.21 208.33,103.29 208.72,103.36 209.10,103.42 209.46,103.46 209.80,103.47 210.13,103.47 210.49,103.44 210.87,103.40 211.26,103.34 211.67,103.28 212.08,103.22 212.49,103.15 212.89,103.08 213.29,103.02 213.67,102.96 214.03,102.91 214.36,102.88 214.69,102.86 215.05,102.85 215.43,102.84 215.83,102.83 216.23,102.82 216.64,102.82 217.05,102.82 217.46,102.82 217.85,102.82 218.23,102.83 218.59,102.84 218.93,102.84 219.26,102.86 219.62,102.88 220.00,102.91 220.39,102.95 220.80,102.98 221.21,103.02 221.62,103.06 222.02,103.09 222.42,103.12 222.80,103.14 223.16,103.15 223.49,103.16 223.82,103.15 224.18,103.12 224.56,103.09 224.96,103.05 225.36,103.01 225.77,102.96 226.18,102.91 226.59,102.87 226.98,102.83 227.36,102.79 227.72,102.76 228.05,102.75 228.39,102.74 228.75,102.74 229.13,102.75 229.52,102.76 229.93,102.77 230.34,102.79 230.75,102.80 231.15,102.82 231.55,102.84 231.93,102.86 232.29,102.87 232.62,102.88 232.95,102.89 233.31,102.91 233.69,102.92 234.09,102.94 234.49,102.95 234.90,102.97 235.31,102.98 235.72,102.99 236.11,103.00 236.49,103.01 236.85,103.01 237.18,103.01 237.52,103.00 237.88,102.98 238.26,102.95 238.65,102.92 239.06,102.89 239.47,102.85 239.88,102.82 240.28,102.78 240.68,102.75 241.06,102.73 241.41,102.71 241.75,102.70 242.08,102.71 242.44,102.71 242.82,102.73 243.22,102.75 243.62,102.77 244.03,102.79 244.44,102.82 244.85,102.84 245.24,102.87 245.62,102.89 245.98,102.90 246.31,102.91 246.65,102.92 247.01,102.93 247.39,102.93 247.78,102.93 248.19,102.93 248.60,102.93 249.01,102.93 249.41,102.93 249.81,102.92 250.18,102.92 250.54,102.91 250.88,102.90 251.21,102.89 251.57,102.88 251.95,102.86 252.35,102.84 252.75,102.82 253.16,102.79 253.57,102.77 253.98,102.75 254.37,102.73 254.75,102.71 255.11,102.71 255.44,102.70 255.78,102.71 256.14,102.72 256.52,102.74 256.91,102.76 257.31,102.79 257.72,102.81 258.13,102.84 258.54,102.87 258.93,102.89 259.31,102.91 259.67,102.92 260.01,102.93 260.34,102.93 260.70,102.93 261.08,102.93 261.47,102.92 261.88,102.91 262.29,102.90 262.70,102.88 263.10,102.87 263.50,102.86 263.88,102.84 264.24,102.83 264.57,102.83 264.91,102.82 265.26,102.81 265.64,102.80 266.04,102.78 266.44,102.77 266.85,102.76 267.26,102.75 267.67,102.74 268.06,102.73 268.44,102.73 268.80,102.72 269.14,102.73 269.47,102.73 269.83,102.75 270.21,102.77 270.60,102.79 271.01,102.81 271.42,102.83 271.83,102.86 272.23,102.88 272.63,102.90 273.01,102.92 273.37,102.93 273.70,102.94 274.03,102.93 274.39,102.93 274.77,102.91 275.17,102.90 275.57,102.88 275.98,102.86 276.39,102.84 276.80,102.82 277.19,102.80 277.57,102.79 277.93,102.77 278.27,102.77 278.60,102.76 278.96,102.76 279.34,102.75 279.73,102.75 280.14,102.75 280.55,102.75 280.96,102.75 281.36,102.75 281.76,102.75 282.14,102.76 282.50,102.76 282.83,102.77 283.16,102.77 283.52,102.79 283.90,102.80 284.30,102.82 284.70,102.84 285.11,102.86 285.52,102.87 285.93,102.89 286.32,102.90 286.70,102.92 287.06,102.92 287.39,102.92 287.73,102.92 288.09,102.91 288.47,102.89 288.86,102.87 289.27,102.85 289.68,102.83 290.09,102.80 290.49,102.78 290.89,102.76 291.27,102.74 291.63,102.73 291.96,102.72 292.29,102.72 292.65,102.72 293.03,102.73 293.43,102.73 293.83,102.74 294.24,102.75 294.65,102.76 295.06,102.78 295.45,102.79 295.83,102.80 296.19,102.81 296.52,102.81 296.86,102.82 297.22,102.83 297.60,102.84 297.99,102.85 298.40,102.86 298.81,102.87 299.22,102.88 299.62,102.89 300.02,102.89 300.40,102.90 300.75,102.90 301.09,102.90 301.42,102.89 301.78,102.88 302.16,102.86 302.56,102.84 302.96,102.82 303.37,102.80 303.78,102.77 304.19,102.75 304.58,102.73 304.96,102.72 305.32,102.71 305.65,102.70 305.99,102.70 306.35,102.71 306.73,102.72 307.12,102.74 307.53,102.75 307.94,102.77 308.35,102.79 308.75,102.81 309.15,102.83 309.52,102.84 309.88,102.86 310.22,102.86 310.55,102.87 310.91,102.87 311.29,102.88 311.69,102.88 312.09,102.88 312.50,102.88 312.91,102.88 313.32,102.88 313.71,102.87 314.09,102.87 314.45,102.87 314.78,102.86 315.12,102.85 315.48,102.84 315.86,102.83 316.25,102.81 316.65,102.79 317.06,102.77 317.47,102.75 317.88,102.74 318.27,102.72 318.65,102.71 319.01,102.70 319.35,102.70 319.68,102.71 320.04,102.72 320.42,102.74 320.81,102.76 321.22,102.78 321.63,102.80 322.04,102.83 322.44,102.85 322.84,102.87 323.22,102.89 323.58,102.90 323.91,102.91 324.25,102.91 324.60,102.91 324.98,102.91 325.38,102.90 325.78,102.89 326.19,102.88 326.60,102.87 327.01,102.86 327.40,102.84 327.78,102.83 328.14,102.82 328.48,102.82 328.81,102.81 329.17,102.80 329.55,102.79 329.94,102.78 330.35,102.77 330.76,102.76 331.17,102.75 331.57,102.74 331.97,102.73 332.35,102.73 332.71,102.73 333.04,102.73 333.37,102.74 333.73,102.75 334.11,102.77 334.51,102.79 334.91,102.82 335.32,102.85 335.73,102.87 336.14,102.90 336.53,102.92 336.91,102.93 337.27,102.95 337.61,102.95 337.94,102.95 338.30,102.94 338.68,102.93 339.07,102.91 339.48,102.89 339.89,102.87 340.30,102.85 340.70,102.83 341.10,102.81 341.48,102.79 341.84,102.78 342.17,102.77 342.50,102.76 342.86,102.76 343.24,102.76 343.64,102.76 344.04,102.76 344.45,102.76 344.86,102.76 345.27,102.76 345.66,102.76 346.04,102.77 346.40,102.78 346.73,102.78 347.07,102.79 347.43,102.81 347.81,102.83 348.20,102.85 348.61,102.87 349.02,102.90 349.43,102.92 349.83,102.94 350.23,102.96 350.61,102.97 350.97,102.98 351.30,102.98 351.63,102.98 351.99,102.96 352.37,102.94 352.77,102.92 353.17,102.89 353.58,102.86 353.99,102.83 354.40,102.80 354.79,102.77 355.17,102.75 355.53,102.74 355.86,102.73 356.20,102.73 356.56,102.73 356.94,102.74 357.33,102.75 357.74,102.76 358.15,102.78 358.56,102.80 358.96,102.81 359.36,102.83 359.74,102.84 360.09,102.86 360.43,102.87 360.76,102.88 361.12,102.89 361.50,102.91 361.90,102.93 362.30,102.94 362.71,102.96 363.12,102.97 363.53,102.99 363.92,103.00 364.30,103.00 364.66,103.01 364.99,103.00 365.33,102.99 365.69,102.97 366.07,102.95 366.46,102.92 366.87,102.88 367.28,102.84 367.69,102.81 368.09,102.78 368.49,102.75 368.86,102.72 369.22,102.71 369.56,102.70 369.89,102.71 370.25,102.72 370.63,102.74 371.03,102.77 371.43,102.80 371.84,102.84 372.25,102.88 372.66,102.91 373.05,102.94 373.43,102.97 373.79,102.99 374.12,103.01 374.46,103.02 374.82,103.03 375.20,103.04 375.59,103.04 375.99,103.05 376.40,103.05 376.81,103.05 377.22,103.05 377.61,103.05 377.99,103.04 378.35,103.03 378.69,103.03 379.02,103.01 379.38,102.98 379.76,102.95 380.15,102.92 380.56,102.88 380.97,102.84 381.38,102.80 381.78,102.77 382.18,102.74 382.56,102.72 382.92,102.71 383.25,102.71 383.59,102.73 383.94,102.76 384.32,102.81 384.72,102.87 385.12,102.93 385.53,103.00 385.94,103.06 386.35,103.13 386.74,103.18 387.12,103.23 387.48,103.27 387.82,103.29 388.15,103.30 388.51,103.30 388.89,103.29 389.28,103.27 389.69,103.25 390.10,103.23 390.51,103.20 390.91,103.17 391.31,103.15 391.69,103.12 392.05,103.10 392.38,103.08 392.71,103.06 393.07,103.03 393.45,102.99 393.85,102.95 394.25,102.90 394.66,102.86 395.07,102.83 395.48,102.80 395.87,102.79 396.25,102.79 396.61,102.81 396.95,102.84 397.28,102.92 397.64,103.03 398.02,103.17 398.41,103.34 398.82,103.51 399.23,103.70 399.64,103.89 400.04,104.06 400.44,104.22 400.82,104.36 401.18,104.46 401.51,104.52 401.84,104.24 402.20,103.45 402.58,102.31 402.98,100.98 403.38,99.64 403.79,98.45 404.20,97.59 404.61,97.21 405.00,97.48 405.38,98.58 405.74,100.67 406.07,103.92 406.41,109.09 406.77,116.52 407.15,125.78 407.54,136.39 407.95,147.90 408.36,159.86 408.77,171.81 409.17,183.28 409.57,193.84 409.95,203.02 410.31,210.36 410.64,215.40 410.97,218.20 411.33,219.32 411.71,219.09 412.11,217.84 412.51,215.91 412.92,213.63 413.33,211.32 413.74,209.32 414.13,207.96 414.51,207.57 414.87,208.48 415.20,211.03 415.54,215.85 415.90,223.03 416.28,232.07 416.67,242.47 417.08,253.73 417.49,265.36 417.90,276.84 418.30,287.68 418.70,297.39 419.08,305.46 419.43,311.38 419.77,314.67 420.10,315.31 420.46,313.88 420.84,310.72 421.24,306.19 421.64,300.63 422.05,294.40 422.46,287.84 422.87,281.31 423.26,275.16 423.64,269.74 424.00,265.40 424.33,262.50 424.67,260.12 425.03,257.31 425.41,254.29 425.80,251.29 426.21,248.53 426.62,246.25 427.03,244.68 427.43,244.04 427.83,244.56 428.20,246.48 428.56,250.02 428.90,255.40 429.23,264.45 429.59,278.14 429.97,295.44 430.37,315.34 430.77,336.80 431.18,358.81 431.59,380.34 432.00,400.37 432.39,417.88 432.77,431.84 433.13,441.24 433.46,445.04 433.80,442.67 434.16,434.88 434.54,422.66 434.93,406.98 435.33,388.82 435.74,369.15 436.15,348.96 436.56,329.22 436.95,310.92 437.33,295.02 437.69,282.50 438.03,274.36 438.36,269.46 438.72,265.96 439.10,263.75 439.49,262.73 439.90,262.78 440.31,263.79 440.72,265.66 441.12,268.27 441.52,271.50 441.90,275.27 442.26,279.44 442.59,283.91 442.93,290.16 443.28,299.29 443.66,310.65 444.06,323.59 444.46,337.46 444.87,351.59 445.28,365.34 445.69,378.05 446.08,389.06 446.46,397.72 446.82,403.38 447.16,405.39 447.49,403.19 447.85,397.15 448.23,387.99 448.62,376.42 449.03,363.15 449.44,348.90 449.85,334.38 450.25,320.30 450.65,307.38 451.03,296.33 451.39,287.86 451.72,282.70 452.05,280.32 452.41,279.58 452.79,280.26 453.19,282.11 453.59,284.91 454.00,288.44 454.41,292.45 454.82,296.71 455.21,301.01 455.59,305.10 455.95,308.76 456.29,311.75 456.62,314.85 456.98,318.84 457.36,323.49 457.75,328.56 458.16,333.82 458.57,339.03 458.98,343.98 459.38,348.41 459.78,352.11 460.16,354.83 460.52,356.35 460.85,356.43 461.18,354.58 461.54,350.72 461.92,345.27 462.32,338.63 462.72,331.20 463.13,323.39 463.54,315.61 463.95,308.26 464.34,301.75 464.72,296.48 465.08,292.86 465.41,291.29 465.75,291.89 466.11,294.27 466.49,298.10 466.88,303.08 467.29,308.86 467.70,315.14 468.11,321.58 468.51,327.86 468.91,333.66 469.29,338.65 469.65,342.52 469.98,344.93 470.31,346.20 470.67,346.91 471.05,347.11 471.45,346.87 471.85,346.25 472.26,345.31 472.67,344.11 473.08,342.71 473.47,341.18 473.85,339.57 474.21,337.95 474.54,336.38 474.88,334.26 475.24,331.12 475.62,327.23 476.01,322.84 476.42,318.22 476.83,313.63 477.24,309.33 477.64,305.59 478.04,302.66 478.42,300.82 478.77,300.31 479.11,301.41 479.44,304.82 479.80,310.73 480.18,318.62 480.58,327.97 480.98,338.26 481.39,348.98 481.80,359.60 482.21,369.62 482.60,378.51 482.98,385.75 483.34,390.82 483.67,393.21 484.01,392.85 484.37,390.26 484.75,385.83 485.14,379.94 485.55,372.97 485.96,365.32 486.37,357.37 486.77,349.49 487.17,342.08 487.54,335.52 487.90,330.19 488.24,326.48 488.57,323.39 488.93,319.85 489.31,316.10 489.71,312.39 490.11,308.96 490.52,306.08 490.93,303.97 491.34,302.90 491.73,303.11 492.11,304.85 492.47,308.36 492.80,313.90 493.14,323.43 493.50,338.00 493.88,356.50 494.27,377.82 494.67,400.84 495.08,424.45 495.49,447.52 495.90,468.96 496.29,487.64 496.67,502.44 497.03,512.26 497.37,515.97 497.70,512.90 498.06,503.83 498.44,489.86 498.83,472.05 499.24,451.51 499.65,429.31 500.06,406.55 500.46,384.30 500.86,363.66 501.24,345.71 501.60,331.53 501.93,322.22 502.27,316.57 502.62,312.57 503.00,310.06 503.40,308.89 503.80,308.91 504.21,309.97 504.62,311.92 505.03,314.60 505.42,317.88 505.80,321.59 506.16,325.59 506.50,329.72 506.83,335.41 507.19,343.78 507.57,354.22 507.96,366.12 508.37,378.87 508.78,391.86 509.19,404.49 509.59,416.13 509.99,426.19 510.37,434.06 510.73,439.11 511.06,440.75 511.39,438.43 511.75,432.45 512.13,423.51 512.53,412.28 512.93,399.45 513.34,385.69 513.75,371.70 514.16,358.14 514.55,345.71 514.93,335.08 515.29,326.94 515.63,321.97 515.96,319.69 516.32,319.03 516.70,319.76 517.09,321.63 517.50,324.43 517.91,327.92 518.32,331.88 518.72,336.05 519.12,340.23 519.50,344.17 519.86,347.65 520.19,350.43 520.52,353.24 520.88,356.82 521.26,360.97 521.66,365.47 522.06,370.11 522.47,374.70 522.88,379.01 523.29,382.85 523.68,386.00 524.06,388.25 524.42,389.40 524.75,389.24 525.09,387.26 525.45,383.35 525.83,377.91 526.22,371.33 526.63,364.01 527.04,356.34 527.45,348.71 527.85,341.53 528.25,335.17 528.63,330.05 528.99,326.54 529.32,325.06 529.65,325.72 530.01,328.20 530.39,332.14 530.79,337.23 531.19,343.14 531.60,349.52 532.01,356.05 532.42,362.39 532.81,368.22 533.19,373.20 533.55,377.00 533.88,379.29 534.22,380.35 534.58,380.74 534.96,380.53 535.35,379.81 535.76,378.67 536.17,377.19 536.58,375.44 536.98,373.52 537.38,371.51 537.76,369.49 538.11,367.55 538.45,365.76 538.78,363.52 539.14,360.30 539.52,356.37 539.92,351.98 540.32,347.40 540.73,342.87 541.14,338.66 541.55,335.03 541.94,332.22 542.32,330.49 542.68,330.11 543.01,331.33 543.35,334.89 543.71,341.03 544.09,349.21 544.48,358.88 544.89,369.52 545.30,380.58 545.71,391.53 546.11,401.83 546.51,410.95 546.88,418.34 547.24,423.47 547.58,425.81 547.91,425.24 548.27,422.30 548.65,417.39 549.05,410.94 549.45,403.34 549.86,395.02 550.27,386.39 550.68,377.86 551.07,369.85 551.45,362.77 551.81,357.03 552.14,353.05 552.48,349.74 552.84,345.96 553.22,341.95 553.61,338.01 554.01,334.39 554.42,331.37 554.83,329.21 555.24,328.20 555.63,328.60 556.01,330.69 556.37,334.72 556.71,340.99 557.04,351.68 557.40,368.00 557.78,388.69 558.17,412.52 558.58,438.23 558.99,464.58 559.40,490.32 559.80,514.22 560.20,535.01 560.58,551.47 560.94,562.33 561.27,566.36 561.61,562.76 561.96,552.40 562.34,536.50 562.74,516.29 563.14,493.00 563.55,467.85 563.96,442.06 564.37,416.87 564.76,393.49 565.14,373.16 565.50,357.10 565.84,346.53 566.17,340.17 566.53,335.77 566.91,333.11 567.30,332.01 567.71,332.26 568.12,333.65 568.53,335.98 568.93,339.06 569.33,342.67 569.71,346.61 570.07,350.69 570.40,354.70 570.73,360.04 571.09,367.88 571.47,377.64 571.87,388.76 572.27,400.66 572.68,412.78 573.09,424.55 573.50,435.38 573.89,444.73 574.27,452.00 574.63,456.64 574.97,458.08 575.30,455.77 575.66,449.98 576.04,441.38 576.43,430.60 576.84,418.31 577.25,405.15 577.66,391.77 578.06,378.83 578.46,366.98 578.84,356.86 579.20,349.14 579.53,344.45 579.86,342.39 580.22,341.92 580.60,342.83 581.00,344.87 581.40,347.80 581.81,351.41 582.22,355.45 582.63,359.68 583.02,363.87 583.40,367.80 583.76,371.22 584.09,373.90 584.43,376.53 584.79,379.81 585.17,383.58 585.56,387.64 585.97,391.80 586.38,395.88 586.79,399.69 587.19,403.05 587.59,405.77 587.97,407.67 588.33,408.55 588.66,408.23 588.99,406.21 589.35,402.34 589.73,397.00 590.13,390.58 590.53,383.45 590.94,376.01 591.35,368.63 591.76,361.70 592.15,355.59 592.53,350.69 592.89,347.38 593.22,346.05 593.56,346.86 593.92,349.51 594.30,353.66 594.69,358.96 595.10,365.08 595.51,371.66 595.92,378.38 596.32,384.88 596.72,390.83 597.10,395.88 597.45,399.70 597.79,401.94 598.12,402.86 598.48,402.99 598.86,402.44 599.26,401.32 599.66,399.73 600.07,397.78 600.48,395.57 600.89,393.20 601.28,390.79 601.66,388.42 602.02,386.22 602.35,384.27 602.69,381.95 603.05,378.71 603.43,374.81 603.82,370.49 604.23,366.00 604.64,361.61 605.05,357.55 605.45,354.08 605.85,351.45 606.22,349.91 606.58,349.71 606.92,351.10 607.25,354.89 607.61,361.33 607.99,369.87 608.39,379.96 608.79,391.03 609.20,402.52 609.61,413.88 610.02,424.56 610.41,433.98 610.79,441.60 611.15,446.86 611.48,449.19 611.82,448.47 612.18,445.21 612.56,439.86 612.95,432.87 613.35,424.67 613.76,415.71 614.17,406.44 614.58,397.29 614.97,388.70 615.35,381.13 615.71,375.01 616.05,370.78 616.38,367.32 616.74,363.39 617.12,359.26 617.51,355.21 617.92,351.54 618.33,348.52 618.74,346.43 619.14,345.55 619.54,346.16 619.92,348.55 620.28,353.00 620.61,359.78 620.97,371.28 621.39,388.80 621.86,411.00 622.36,436.54 622.87,464.08 623.37,492.29 623.84,519.84 624.27,545.37 624.64,567.56 624.92,585.06 625.10,596.55 625.17,600.67" stroke="#e60000"/>
</g>
<rect x="506.4" y="71.4" width="148.20" height="95.95" fill="#f7f7f7" stroke="#000" stroke-width="1.2"/>
<line x1="515.6" y1="90.95" x2="563.4" y2="90.95" stroke="#c89b37" stroke-width="2"/>
<line x1="515.6" y1="119.95" x2="563.4" y2="119.95" stroke="#000080" stroke-width="2"/>
<line x1="515.6" y1="147.95" x2="563.4" y2="147.95" stroke="#9b0f14" stroke-width="2"/>
<rect x="128.6" y="62.4" width="536.90" height="445.40" fill="none" stroke="#000" stroke-width="1.3"/>
<text x="119" y="111.30" font-family="Liberation Serif" font-size="28.6" text-anchor="end" stroke="#fff" stroke-width="0.4">0</text>
<text x="119" y="190.70" font-family="Liberation Serif" font-size="28.6" text-anchor="end" stroke="#fff" stroke-width="0.4">10</text>
<line x1="72.0" y1="183.70" x2="88.3" y2="183.70" stroke="#000" stroke-width="1.15"/>
<text x="119" y="271.70" font-family="Liberation Serif" font-size="28.6" text-anchor="end" stroke="#fff" stroke-width="0.4">20</text>
<line x1="72.0" y1="264.70" x2="88.3" y2="264.70" stroke="#000" stroke-width="1.15"/>
<text x="119" y="352.70" font-family="Liberation Serif" font-size="28.6" text-anchor="end" stroke="#fff" stroke-width="0.4">30</text>
<line x1="72.0" y1="345.70" x2="88.3" y2="345.70" stroke="#000" stroke-width="1.15"/>
<text x="119" y="433.70" font-family="Liberation Serif" font-size="28.6" text-anchor="end" stroke="#fff" stroke-width="0.4">40</text>
<line x1="72.0" y1="426.70" x2="88.3" y2="426.70" stroke="#000" stroke-width="1.15"/>
<text x="119" y="514.70" font-family="Liberation Serif" font-size="28.6" text-anchor="end" stroke="#fff" stroke-width="0.4">50</text>
<line x1="72.0" y1="507.70" x2="88.3" y2="507.70" stroke="#000" stroke-width="1.15"/>
<text x="194.80" y="535.7" font-family="Liberation Serif" font-size="29" text-anchor="middle" stroke="#fff" stroke-width="0.4">0</text>
<text x="302.40" y="535.7" font-family="Liberation Serif" font-size="29" text-anchor="middle" stroke="#fff" stroke-width="0.4">0,5</text>
<text x="410.00" y="535.7" font-family="Liberation Serif" font-size="29" text-anchor="middle" stroke="#fff" stroke-width="0.4">1</text>
<text x="517.60" y="535.7" font-family="Liberation Serif" font-size="29" text-anchor="middle" stroke="#fff" stroke-width="0.4">1,5</text>
<text x="625.20" y="535.7" font-family="Liberation Serif" font-size="29" text-anchor="middle" stroke="#fff" stroke-width="0.4">2</text>
<text transform="translate(576.22,95.20) scale(0.2392,0.2015)" font-family="Liberation Serif" font-size="100" font-style="italic" fill="#000" stroke="#f7f7f7" stroke-width="0.68">N</text>
<path d="M601.30,87.70h14.6M601.30,92.70h14.6" stroke="#000" stroke-width="1.05"/>
<text transform="translate(623.97,95.30) scale(0.2172,0.1923)" font-family="Liberation Serif" font-size="100" fill="#000" stroke="#f7f7f7" stroke-width="0.73">4</text>
<text transform="translate(570.62,123.90) scale(0.2406,0.2015)" font-family="Liberation Serif" font-size="100" font-style="italic" fill="#000" stroke="#f7f7f7" stroke-width="0.68">N</text>
<path d="M596.20,116.40h14.6M596.20,121.40h14.6" stroke="#000" stroke-width="1.05"/>
<text transform="translate(617.94,123.71) scale(0.2182,0.1866)" font-family="Liberation Serif" font-size="100" fill="#000" stroke="#f7f7f7" stroke-width="0.74">16</text>
<text transform="translate(571.12,152.00) scale(0.2336,0.2015)" font-family="Liberation Serif" font-size="100" font-style="italic" fill="#000" stroke="#f7f7f7" stroke-width="0.69">N</text>
<path d="M596.20,144.50h14.6M596.20,149.50h14.6" stroke="#000" stroke-width="1.05"/>
<text transform="translate(617.91,151.81) scale(0.2202,0.1866)" font-family="Liberation Serif" font-size="100" fill="#000" stroke="#f7f7f7" stroke-width="0.74">64</text>
<g transform="translate(44.4,311.2) rotate(-90)"><text transform="translate(-0.34,0.09) scale(0.3432,0.3075)" font-family="Liberation Serif" font-size="100" font-style="italic" fill="#a82a72" stroke="#fff" stroke-width="0.98">S</text><text transform="translate(19.46,0.23) scale(0.2314,0.3033)" font-family="Liberation Serif" font-size="100" fill="#a82a72" stroke="#fff" stroke-width="1.20">(</text><text transform="translate(28.44,-0.63) scale(0.3632,0.2776)" font-family="Liberation Serif" font-size="100" font-style="italic" fill="#a82a72" stroke="#fff" stroke-width="1.00">f</text><text transform="translate(45.60,0.05) scale(0.2346,0.2978)" font-family="Liberation Serif" font-size="100" fill="#a82a72" stroke="#fff" stroke-width="1.20">)</text></g>
<text transform="translate(391.73,572.35) scale(0.2658,0.1880)" font-family="Liberation Serif" font-size="100" font-style="italic" fill="#a82a72" stroke="#fff" stroke-width="1.41">f</text>
<line x1="368.1" y1="578.4" x2="425.6" y2="578.4" stroke="#a82a72" stroke-width="1.1"/>
<text transform="translate(368.72,593.60) scale(0.2364,0.1938)" font-family="Liberation Serif" font-size="100" font-style="italic" fill="#a82a72" stroke="#fff" stroke-width="1.49">N</text>
<path d="M393.20,585.50L393.20,593.70M389.65,587.55L396.75,591.65M389.65,591.65L396.75,587.55" stroke="#a82a72" stroke-width="1.4" stroke-linecap="round"/>
<text transform="translate(400.61,593.60) scale(0.2133,0.1938)" font-family="Liberation Serif" font-size="100" font-style="italic" fill="#a82a72" stroke="#fff" stroke-width="1.57">R</text>
<text transform="translate(416.30,593.53) scale(0.1971,0.1667)" font-family="Liberation Serif" font-size="100" font-style="italic" fill="#a82a72" stroke="#fff" stroke-width="1.76">s</text>
</svg>
</body></html>
